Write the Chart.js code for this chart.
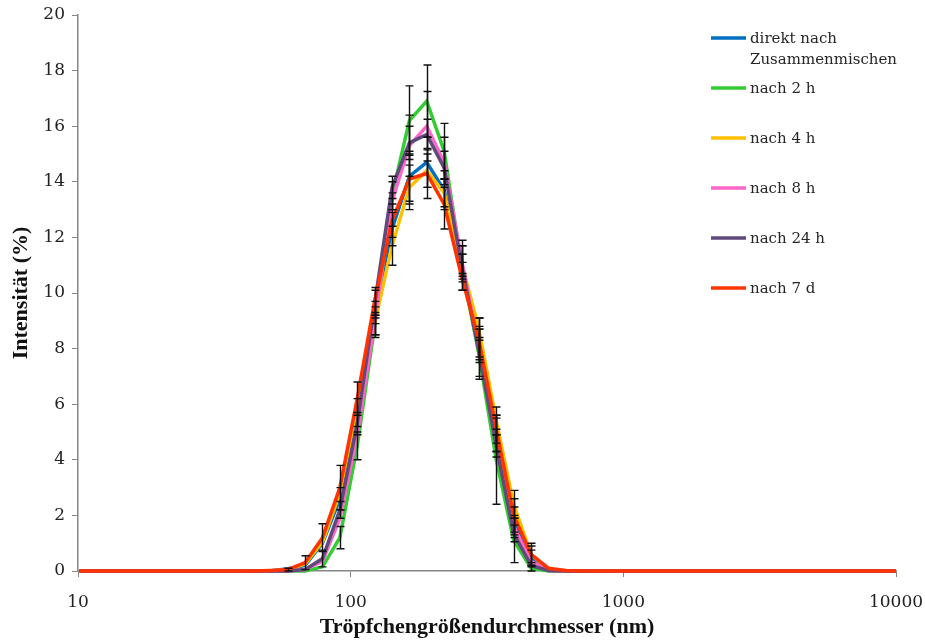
<!DOCTYPE html>
<html>
<head>
  <title>Tröpfchengröße</title>
  <script src="https://cdn.jsdelivr.net/npm/chart.js@4.4.1/dist/chart.umd.min.js"></script>
  <style>
    body { margin: 0; background: #fff; }
    #wrap { width: 925px; height: 641px; }
  </style>
</head>
<body>
<div id="wrap"><canvas id="dlsChart"></canvas></div>

<script>
// droplet size bins (nm)
var sizes = [10.1, 11.7, 13.54, 15.69, 18.17, 21.04, 24.36, 28.21, 32.67, 37.84, 43.82, 50.75, 58.77, 68.06, 78.82, 91.28, 105.7, 122.4, 141.8, 164.2, 190.1, 220.2, 255, 295.3, 342, 396.1, 458.7, 531.2, 615.1, 712.4, 825, 955.4, 1106, 1281, 1484, 1718, 1990, 2305, 2669, 3091, 3580, 4145, 4801, 5560, 6439, 7456, 8635, 10000]
var xTicks = [10, 100, 1000, 10000]
var yTicks = [0, 2, 4, 6, 8, 10, 12, 14, 16, 18, 20]

var labels = [["direkt nach", "Zusammenmischen"], "nach 2 h", "nach 4 h", "nach 8 h", "nach 24 h", "nach 7 d"]

// intensity (%) per series
var direkt = [0,0,0,0,0,0,0,0,0,0,0, 0,0.08,0.2,1.0,2.6,5.7,9.3,12.3,14.2,14.7,13.7,10.9,8.2,4.9,1.8,0.45,0.02,0, 0,0,0,0,0,0,0,0,0,0,0,0,0,0,0,0,0,0,0]
var nach2h = [0,0,0,0,0,0,0,0,0,0,0, 0,0,0,0.15,1.2,4.5,8.8,13.5,16.2,16.9,15.1,11.0,7.8,4.0,1.1,0.1,0,0, 0,0,0,0,0,0,0,0,0,0,0,0,0,0,0,0,0,0,0]
var nach4h = [0,0,0,0,0,0,0,0,0,0,0, 0,0.05,0.25,1.05,2.8,5.9,8.9,11.7,13.8,14.4,13.6,11.1,8.7,5.4,2.4,0.6,0.05,0, 0,0,0,0,0,0,0,0,0,0,0,0,0,0,0,0,0,0,0]
var nach8h = [0,0,0,0,0,0,0,0,0,0,0, 0,0,0.05,0.35,1.9,4.9,9.0,13.3,15.3,16.0,14.7,11.2,8.0,4.7,1.6,0.35,0.02,0, 0,0,0,0,0,0,0,0,0,0,0,0,0,0,0,0,0,0,0]
var nach24h = [0,0,0,0,0,0,0,0,0,0,0, 0,0,0.05,0.45,2.2,5.3,9.6,13.8,15.4,15.7,14.5,11.0,7.9,4.5,1.35,0.2,0.02,0, 0,0,0,0,0,0,0,0,0,0,0,0,0,0,0,0,0,0,0]
var nach7d = [0,0,0,0,0,0,0,0,0,0,0, 0.02,0.05,0.3,1.2,3.0,6.2,9.7,12.6,14.1,14.3,13.2,10.6,8.3,5.1,2.0,0.6,0.1,0.02, 0,0,0,0,0,0,0,0,0,0,0,0,0,0,0,0,0,0,0]

// standard deviations (error bars)
var sdDirekt = [0,0,0,0,0,0,0,0,0,0,0, 0,0,0,0,0.4,0.5,0.4,0.6,0.9,0.9,0.7,0.5,0.5,0.6,0.5,0.3,0,0, 0,0,0,0,0,0,0,0,0,0,0,0,0,0,0,0,0,0,0]
var sd2h = [0,0,0,0,0,0,0,0,0,0,0, 0,0,0,0,0.4,0.5,0.4,0.5,1.25,1.3,1.0,0.9,0.9,1.6,0.8,0.1,0,0, 0,0,0,0,0,0,0,0,0,0,0,0,0,0,0,0,0,0,0]
var sd4h = [0,0,0,0,0,0,0,0,0,0,0, 0,0,0,0,0,0,0.4,0.7,0.8,0.6,0.5,0.6,0.4,0.5,0.5,0.4,0,0, 0,0,0,0,0,0,0,0,0,0,0,0,0,0,0,0,0,0,0]
var sd8h = [0,0,0,0,0,0,0,0,0,0,0, 0,0,0,0,0,0,0.5,0.3,1.1,1.25,0.9,0.5,0.4,0.4,0.4,0,0,0, 0,0,0,0,0,0,0,0,0,0,0,0,0,0,0,0,0,0,0]
var sd24h = [0,0,0,0,0,0,0,0,0,0,0, 0,0,0,0.3,0.3,0.4,0.5,0.4,0.6,0.55,0.6,0.4,0.9,0.4,0.3,0,0,0, 0,0,0,0,0,0,0,0,0,0,0,0,0,0,0,0,0,0,0]
var sd7d = [0,0,0,0,0,0,0,0,0,0,0, 0,0.05,0.25,0.5,0.8,0.6,0.5,0.6,0.9,0.9,0.9,0.5,0.8,0.5,0.6,0.3,0,0, 0,0,0,0,0,0,0,0,0,0,0,0,0,0,0,0,0,0,0]

var series = [direkt, nach2h, nach4h, nach8h, nach24h, nach7d]
var errors = [sdDirekt, sd2h, sd4h, sd8h, sd24h, sd7d]
var colors = ["#0070C0", "#33CC33", "#FFC000", "#FF66CC", "#604A7B", "#FF3300"]

var serif = "'DejaVu Serif', serif"
var titleFont = "'Liberation Serif', serif"

function toPoints(arr){
  var pts = []
  for(i=0;i<arr.length;i++){
    pts.push({x: sizes[i], y: arr[i]})
  }
  return pts
}

var datasets = []
for(s=0;s<series.length;s++){
  datasets.push({
    label: Array.isArray(labels[s]) ? labels[s].join(" ") : labels[s],
    data: toPoints(series[s]),
    borderColor: colors[s],
    backgroundColor: colors[s],
    borderWidth: 3.5,
    pointRadius: 0,
    tension: 0,
    clip: false,
    order: series.length - s //last series on top
  })
}

//error bars, drawn through the scales
var errorBars = {
  id: "errorBars",
  afterDatasetsDraw: function(chart){
    var ctx = chart.ctx, xs = chart.scales.x, ys = chart.scales.y
    ctx.save()
    ctx.strokeStyle = "#111"
    ctx.lineWidth = 1.4
    for(s=0;s<series.length;s++){
      for(i=0;i<sizes.length;i++){
        var sd = errors[s][i]
        if(!sd) continue
        var px = Math.round(xs.getPixelForValue(sizes[i])) + 0.5
        var top = ys.getPixelForValue(series[s][i] + sd)
        var bot = ys.getPixelForValue(Math.max(series[s][i] - sd, 0))
        ctx.beginPath()
        ctx.moveTo(px, top); ctx.lineTo(px, bot)
        ctx.moveTo(px - 4, top); ctx.lineTo(px + 4, top)
        ctx.moveTo(px - 4, bot); ctx.lineTo(px + 4, bot)
        ctx.stroke()
      }
    }
    ctx.restore()
  }
}

//legend inside the plot, top right
var sideLegend = {
  id: "sideLegend",
  afterDraw: function(chart){
    var ctx = chart.ctx, area = chart.chartArea
    var x0 = area.right - 185, y0 = area.top + 23
    ctx.save()
    ctx.font = "15px " + serif
    ctx.fillStyle = "#262626"
    ctx.textBaseline = "middle"
    ctx.lineWidth = 3.5
    for(s=0;s<labels.length;s++){
      var y = y0 + s*50
      ctx.strokeStyle = colors[s]
      ctx.beginPath()
      ctx.moveTo(x0, y); ctx.lineTo(x0 + 35, y)
      ctx.stroke()
      var lines = Array.isArray(labels[s]) ? labels[s] : [labels[s]]
      for(j=0;j<lines.length;j++){
        ctx.fillText(lines[j], x0 + 39, y + 1 + j*21)
      }
    }
    ctx.restore()
  }
}

var chart = new Chart(document.getElementById("dlsChart").getContext("2d"), {
  type: "line",
  data: { datasets: datasets },
  options: {
    responsive: true,
    maintainAspectRatio: false,
    animation: false,
    devicePixelRatio: 1,
    layout: { padding: { top: 15, right: 29, left: 0, bottom: 0 } },
    plugins: { legend: { display: false }, tooltip: { enabled: false } },
    scales: {
      x: {
        type: "logarithmic",
        min: 10, max: 10000,
        afterBuildTicks: function(scale){ scale.ticks = xTicks.map(function(v){ return {value: v} }) },
        afterFit: function(scale){ scale.height = 70; scale.paddingLeft = 0; scale.paddingRight = 0 },
        grid: { drawOnChartArea: false, drawTicks: true, tickLength: 6, color: "#868686" },
        border: { display: true, color: "#868686", width: 1.5 },
        ticks: { autoSkip: false, maxRotation: 0, padding: 15, color: "#222", font: { family: serif, size: 17 },
          callback: function(v){ return String(v) } },
        title: { display: true, text: "Tröpfchengrößendurchmesser (nm)", color: "#111",
          font: { family: titleFont, size: 22, weight: "bold" }, padding: { top: 0, bottom: 0 } }
      },
      y: {
        min: 0, max: 20,
        afterBuildTicks: function(scale){ scale.ticks = yTicks.map(function(v){ return {value: v} }) },
        afterFit: function(scale){ scale.width = 78; scale.paddingTop = 0; scale.paddingBottom = 0 },
        grid: { drawOnChartArea: false, drawTicks: true, tickLength: 6, color: "#868686" },
        border: { display: true, color: "#868686", width: 1.5 },
        ticks: { padding: 7, color: "#222", font: { family: serif, size: 17 } },
        title: { display: true, text: "Intensität (%)", color: "#111",
          font: { family: titleFont, size: 22, weight: "bold" }, padding: { top: 8, bottom: 0 } }
      }
    }
  },
  plugins: [errorBars, sideLegend]
})
</script>
</body>
</html>
